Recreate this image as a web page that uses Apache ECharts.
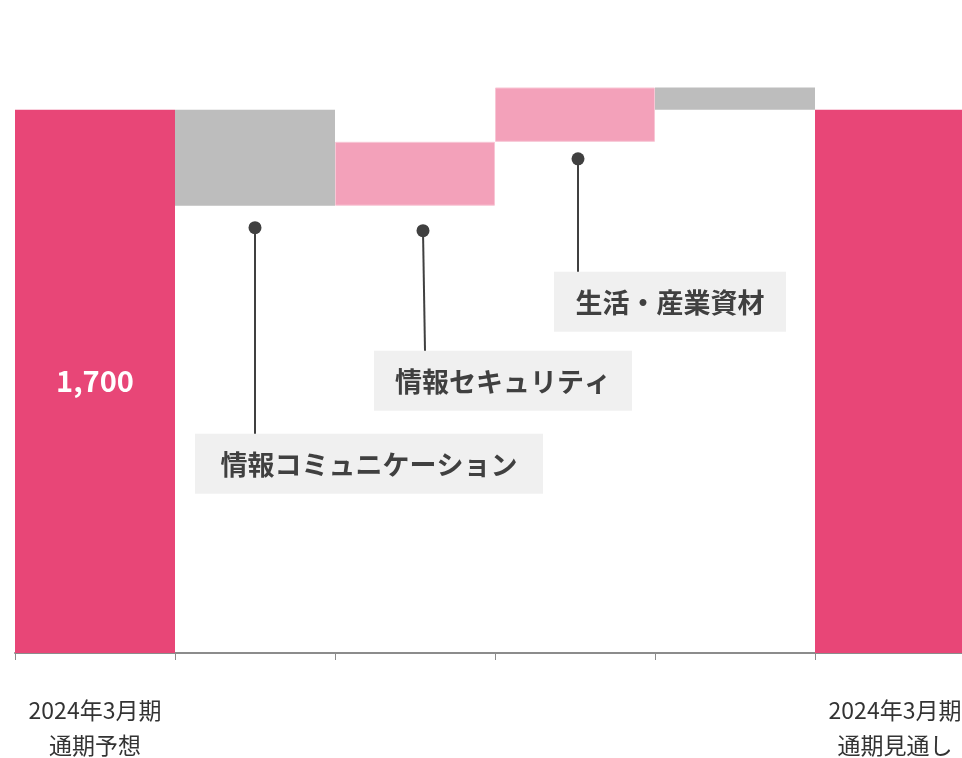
<!DOCTYPE html>
<html>
<head>
<meta charset="utf-8">
<script src="https://cdn.jsdelivr.net/npm/echarts@6/dist/echarts.min.js"></script>
<style>
    html, body { margin: 0; padding: 0; background: #fff; }
    #chart { width: 962px; height: 758px; }
</style>
</head>
<body>
<div id="chart"></div>
<script>
    var categories = [
        '2024年3月期\n通期予想',
        '情報コミュニケーション',
        '情報セキュリティ',
        '生活・産業資材',
        'その他',
        '2024年3月期\n通期見通し'
    ];
    var startTotal = 1700;
    var deltas = [-300, 200, 170, -70];
    var endTotal = 1700;
    var annotatedSteps = [1, 2, 3];

    var colorTotal = '#e84677';
    var colorUp = '#f3a1ba';
    var colorDown = '#bdbdbd';

    // waterfall: transparent base + visible segment
    var baseData = [0];
    var barData = [{ value: startTotal, itemStyle: { color: colorTotal } }];
    var level = startTotal;
    var bottoms = [0];
    for (var i = 0; i < deltas.length; i++) {
        var d = deltas[i];
        var next = level + d;
        var low = Math.min(level, next);
        baseData.push(low);
        bottoms.push(low);
        barData.push({
            value: Math.abs(d),
            itemStyle: d >= 0
                ? { color: colorUp, borderColor: '#f8c6d5', borderWidth: 1 }
                : { color: colorDown }
        });
        level = next;
    }
    baseData.push(0);
    bottoms.push(0);
    barData.push({ value: endTotal, itemStyle: { color: colorTotal } });

    // label placement (pixels relative to the bar bottom)
    var notePlacement = [
        { dx: 0, dy: 22, lineDx: 0, boxDy: 206, boxDx: -60, boxW: 348 },
        { dx: 8, dy: 25, lineDx: 2, boxDy: 120, boxDx: -49, boxW: 258 },
        { dx: 3, dy: 17, lineDx: 0, boxDy: 113, boxDx: -24, boxW: 232 }
    ];
    var noteData = annotatedSteps.map(function (idx) {
        return [idx, bottoms[idx]];
    });

    var chart = echarts.init(document.getElementById('chart'));

    var option = {
        animation: false,
        grid: { left: 15, width: 960, top: 14, bottom: 105, outerBoundsMode: 'none', containLabel: false },
        xAxis: {
            type: 'category',
            data: categories,
            axisLine: { lineStyle: { color: '#8c8c8c', width: 2 } },
            axisTick: { show: true, interval: 0, length: 7, lineStyle: { color: '#8c8c8c', width: 1 } },
            axisLabel: {
                interval: 0,
                margin: 40,
                fontSize: 23,
                lineHeight: 35,
                color: '#333',
                fontFamily: 'Noto Sans CJK JP',
                formatter: function (v, i) {
                    return (i === 0 || i === categories.length - 1) ? v : '';
                }
            }
        },
        yAxis: {
            type: 'value',
            min: 0,
            max: 2000,
            show: false,
            splitLine: { show: false }
        },
        series: [
            {
                type: 'bar',
                stack: 'w',
                data: baseData,
                barWidth: '100%',
                itemStyle: { color: 'transparent' },
                silent: true
            },
            {
                type: 'bar',
                stack: 'w',
                data: barData,
                barWidth: '100%',
                label: {
                    show: true,
                    position: 'inside',
                    color: '#fff',
                    fontSize: 29,
                    fontWeight: 'bold',
                    fontFamily: 'Noto Sans CJK JP',
                    formatter: function (p) {
                        return p.dataIndex === 0 ? echarts.format.addCommas(p.value) : '';
                    }
                }
            },
            {
                type: 'custom',
                data: noteData,
                renderItem: function (params, api) {
                    var pl = notePlacement[params.dataIndex];
                    var anchor = api.coord([api.value(0), api.value(1)]);
                    var dotX = anchor[0] + pl.dx;
                    var dotY = anchor[1] + pl.dy;
                    var boxTop = dotY + pl.boxDy;
                    var boxLeft = dotX + pl.boxDx;
                    var name = categories[api.value(0)];
                    return {
                        type: 'group',
                        children: [
                            {
                                type: 'rect',
                                shape: { x: boxLeft, y: boxTop, width: pl.boxW, height: 60 },
                                style: { fill: '#f0f0f0' }
                            },
                            {
                                type: 'text',
                                style: {
                                    x: boxLeft + pl.boxW / 2,
                                    y: boxTop + 31,
                                    text: name,
                                    align: 'center',
                                    verticalAlign: 'middle',
                                    fill: '#404040',
                                    font: 'bold 27px "Noto Sans CJK JP"'
                                }
                            },
                            {
                                type: 'line',
                                shape: { x1: dotX, y1: dotY, x2: dotX + pl.lineDx, y2: boxTop },
                                style: { stroke: '#404040', lineWidth: 2 }
                            },
                            {
                                type: 'circle',
                                shape: { cx: dotX, cy: dotY, r: 6.5 },
                                style: { fill: '#404040' }
                            }
                        ]
                    };
                }
            }
        ]
    };

    chart.setOption(option);
</script>
</body>
</html>
